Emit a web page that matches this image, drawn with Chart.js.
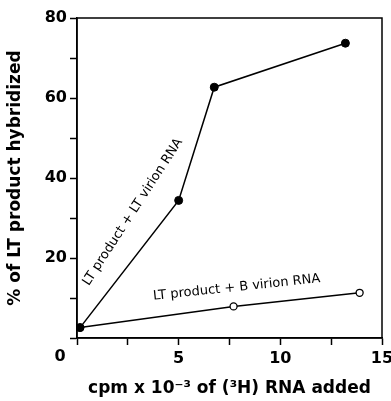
<!DOCTYPE html>
<html><head><meta charset="utf-8">
<script src="https://cdn.jsdelivr.net/npm/chart.js@4/dist/chart.umd.min.js"></script>
<style>html,body{margin:0;padding:0;background:#fff}#wrap{width:391px;height:401px}</style>
</head><body><div id="wrap"><canvas id="c"></canvas></div>
<script>
const ltX = [0.15, 5.0, 6.75, 13.2];
const ltY = [2.6, 34.4, 62.7, 73.7];
const bX = [0.15, 7.7, 13.9];
const bY = [2.6, 7.9, 11.3];
const xTickLabels = {5:'5', 10:'10', 15:'15'};
const yTickLabels = {20:'20', 40:'40', 60:'60', 80:'80'};
const labelLT = 'LT product + LT virion RNA';
const labelB = 'LT product + B virion RNA';
const labelLTpos = {x: 2.75, y: 31.5, angle: -57};
const labelBpos = {x: 7.85, y: 12.6, angle: -6};

const FONT = '"DejaVu Sans", sans-serif';

const decor = {
  id: 'decor',
  afterDraw(chart) {
    const {ctx, chartArea: a, scales: {x, y}} = chart;
    ctx.save();
    ctx.strokeStyle = '#000'; ctx.lineWidth = 1.5;
    ctx.strokeRect(a.left, a.top, a.right - a.left, a.bottom - a.top);
    ctx.fillStyle = '#000';
    ctx.font = 'bold 16px ' + FONT;
    ctx.textAlign = 'center'; ctx.textBaseline = 'middle';
    ctx.fillText('0', x.getPixelForValue(0) - 17, y.getPixelForValue(0) + 19);
    ctx.font = '13px ' + FONT;
    [[labelLT, labelLTpos], [labelB, labelBpos]].forEach(([t, p]) => {
      ctx.save();
      ctx.translate(x.getPixelForValue(p.x), y.getPixelForValue(p.y));
      ctx.rotate(p.angle * Math.PI / 180);
      ctx.fillText(t, 0, 0);
      ctx.restore();
    });
    ctx.restore();
  }
};

new Chart(document.getElementById('c'), {
  type: 'scatter',
  data: {
    datasets: [
      {data: ltX.map((v, i) => ({x: v, y: ltY[i]})), showLine: true, borderColor: '#000', borderWidth: 1.5,
       pointRadius: 4, pointBackgroundColor: '#000', pointBorderColor: '#000', pointBorderWidth: 1},
      {data: bX.map((v, i) => ({x: v, y: bY[i]})), showLine: true, borderColor: '#000', borderWidth: 1.5,
       pointRadius: 3.5, pointBackgroundColor: '#fff', pointBorderColor: '#000', pointBorderWidth: 1.3}
    ]
  },
  options: {
    responsive: true, maintainAspectRatio: false, animation: false,
    layout: {padding: {top: 18, right: 9, left: 0, bottom: 0}},
    plugins: {legend: {display: false}, tooltip: {enabled: false}},
    scales: {
      x: {
        type: 'linear', min: 0, max: 15,
        border: {display: true, color: '#000', width: 1.5},
        grid: {drawOnChartArea: false, drawTicks: true, tickLength: 7, tickWidth: 1.5, tickColor: '#000'},
        ticks: {stepSize: 2.5, autoSkip: false, maxRotation: 0, color: '#000', padding: 4,
                font: {family: FONT, size: 16, weight: 'bold'},
                callback: v => xTickLabels[v] || ''},
        title: {display: true, text: 'cpm x 10\u207B\u00B3 of (\u00B3H) RNA added', color: '#000',
                font: {family: FONT, size: 17, weight: 'bold'}, padding: {top: 8, bottom: 2}},
        afterFit: s => { s.paddingRight = 0; s.paddingLeft = 0; s.height = 63; }
      },
      y: {
        type: 'linear', min: 0, max: 80,
        border: {display: true, color: '#000', width: 1.5},
        grid: {drawOnChartArea: false, drawTicks: true, tickLength: 7, tickWidth: 1.5, tickColor: '#000'},
        ticks: {stepSize: 10, autoSkip: false, color: '#000', padding: 3,
                font: {family: FONT, size: 16, weight: 'bold'},
                callback: v => yTickLabels[v] || ''},
        title: {display: true, text: '% of LT product hybridized', color: '#000',
                font: {family: FONT, size: 17, weight: 'bold'}, padding: {top: 5, bottom: 4}},
        afterFit: s => { s.width = 77; s.paddingTop = 0; s.paddingBottom = 0; }
      }
    }
  },
  plugins: [decor]
});
</script></body></html>
